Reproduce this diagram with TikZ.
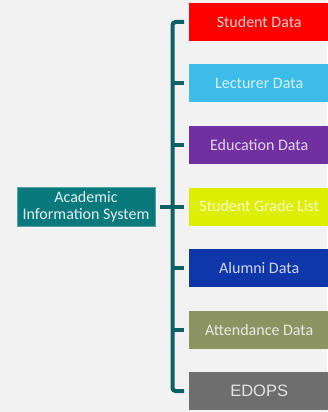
\documentclass[tikz,border=0pt]{standalone}
\usepackage{fontspec}
\setmainfont{Carlito}
\newfontfamily\arialfont{Liberation Sans}
\definecolor{bg}{HTML}{F2F2F2}
\definecolor{teal1}{HTML}{0A797C}
\definecolor{brk}{HTML}{0D6166}
\definecolor{c1}{HTML}{FF0000}
\definecolor{c2}{HTML}{3BBCE9}
\definecolor{c3}{HTML}{7030A0}
\definecolor{c4}{HTML}{DDEE00}
\definecolor{c5}{HTML}{1037A9}
\definecolor{c6}{HTML}{8C9464}
\definecolor{c7}{HTML}{6E6E6E}
\begin{document}
\begin{tikzpicture}[x=1pt,y=-1pt,
  itembox/.style={anchor=west,minimum width=140pt,minimum height=38pt,inner sep=0pt,
    text=white,text opacity=0.8,font=\fontsize{16}{18}\selectfont},
  mainbox/.style={fill=teal1,draw=teal1!70!white,line width=0.5pt,minimum width=138pt,minimum height=39pt,
    inner sep=0pt,text=white,text opacity=0.88,align=center,font=\fontsize{16}{16.5}\selectfont},
  brace/.style={draw=brk,line width=4pt}]
\fill[bg] (0,0) rectangle (327,412);
\useasboundingbox (0,0) rectangle (327,412);
\node[mainbox] (main) at (86,206.5) {Academic\\Information System};
\node[itembox,fill=c1] (b1) at (189,22) {Student Data};
\node[itembox,fill=c2] (b2) at (189,83) {Lecturer Data};
\node[itembox,fill=c3] (b3) at (189,145) {Education Data};
\node[itembox,fill=c4] (b4) at (189,206.5) {Student Grade List};
\node[itembox,fill=c5] (b5) at (189,268) {Alumni Data};
\node[itembox,fill=c6] (b6) at (189,330) {Attendance Data};
\node[itembox,fill=c7,font=\arialfont\fontsize{16.5}{18}\selectfont] (b7) at (189,391) {EDOPS};
\coordinate (t1) at ([xshift=-5pt]b1.west);
\coordinate (t7) at ([xshift=-5pt]b7.west);
\coordinate (k1) at (172.5,22);
\coordinate (k7) at (172.5,391);
\draw[brace,rounded corners=3pt] (t1) -- (k1) -- (k7) -- (t7);
\foreach \i in {2,...,6} {
  \coordinate (t\i) at ([xshift=-5pt]b\i.west);
  \draw[brace] (t\i) -- (k1 |- t\i);
}
\coordinate (ms) at ([xshift=5pt]main.east);
\draw[brace] (ms) -- (k1 |- ms);
\end{tikzpicture}
\end{document}
